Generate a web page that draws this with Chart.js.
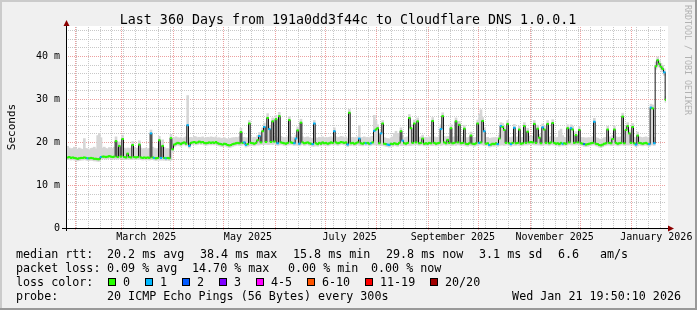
<!DOCTYPE html>
<html>
<head>
<meta charset="utf-8">
<title>Last 360 Days from 191a0dd3f44c to Cloudflare DNS 1.0.0.1</title>
<script src="https://cdn.jsdelivr.net/npm/chart.js@4.4.1/dist/chart.umd.min.js"></script>
<style>
  html, body { margin: 0; padding: 0; background: #f0f0f0; }
  #wrap { width: 697px; height: 310px; }
</style>
</head>
<body>
<div id="wrap"><canvas id="pingChart" width="697" height="310"></canvas></div>
<script>
// Smokeping style graph: one value per day, day 1 .. 360 (last value is "now")
const medianMs = [
    16.4,16.5,16.3,16.4,16.3,16.2,16.1,16.2,16.3,16.3,
    16.4,16.3,16.2,16.2,16.3,16.2,16.1,16.1,16.0,16.0,
    16.5,16.6,16.6,16.5,16.6,16.7,16.6,16.5,16.6,20.2,
    16.5,19.1,16.6,20.7,16.5,16.4,17.3,16.5,16.4,19.3,
    16.5,16.4,16.5,19.4,16.4,16.3,16.4,16.3,16.4,16.3,
    22.0,16.4,16.3,16.2,16.3,20.4,16.3,19.1,16.3,16.2,
    16.3,16.2,20.9,18.3,19.4,19.6,19.8,19.7,19.5,19.8,
    19.9,19.6,23.9,19.1,19.8,19.9,20.0,19.8,19.9,20.1,
    19.9,20.0,19.8,19.7,19.8,19.9,19.8,19.9,19.8,20.0,
    19.7,19.6,19.5,19.4,19.6,19.5,19.3,19.2,19.3,19.5,
    19.6,19.7,19.8,19.7,22.3,19.8,19.9,19.3,19.5,24.3,
    19.8,19.7,19.6,19.8,20.4,21.4,19.9,22.5,23.5,20.0,
    25.6,23.0,20.0,24.8,20.1,25.3,19.7,26.0,19.9,19.8,
    19.7,19.6,19.8,25.1,19.9,19.8,19.7,20.8,22.7,19.6,
    24.5,19.9,19.7,19.8,19.9,19.7,19.6,19.5,24.3,19.7,
    19.5,19.8,19.6,19.9,19.7,19.8,19.6,19.7,19.9,19.8,
    22.5,19.9,19.7,19.8,20.0,19.9,19.8,19.9,19.4,26.8,
    19.7,19.8,19.6,19.7,19.9,20.8,19.7,19.6,19.8,19.7,
    19.8,19.6,19.7,19.9,22.6,22.9,23.2,19.7,22.0,24.3,
    19.6,19.5,19.4,19.3,19.6,19.5,19.7,19.6,19.5,19.8,
    22.5,20.3,19.7,19.6,19.8,25.6,23.2,19.8,24.3,19.9,
    24.8,19.7,19.8,20.8,19.6,19.7,19.6,19.8,19.7,24.9,
    19.8,19.6,19.7,19.8,23.0,26.0,19.9,19.7,20.5,19.8,
    23.2,19.7,19.8,24.8,19.9,24.0,19.7,19.8,23.1,19.6,
    19.5,19.7,21.5,19.6,19.5,19.7,24.3,19.8,19.9,24.9,
    22.5,19.6,19.7,19.3,19.4,19.6,19.5,19.7,19.5,20.8,
    23.7,23.5,22.8,19.8,24.2,19.7,19.5,19.8,23.3,19.7,
    19.8,22.9,19.6,19.7,23.7,19.8,22.4,19.9,20.0,19.9,
    24.2,19.8,23.1,21.0,19.7,23.4,22.9,19.8,24.2,19.7,
    19.9,24.4,19.8,19.6,19.7,19.5,19.8,19.6,19.7,19.6,
    23.2,19.9,23.2,22.9,19.8,21.6,19.9,22.8,19.7,19.6,
    19.5,19.4,19.5,19.6,19.7,19.8,24.7,19.6,19.5,19.3,
    19.2,19.4,19.6,19.7,22.9,19.8,19.7,20.7,22.9,19.8,
    19.6,19.7,19.8,25.9,19.7,22.8,23.7,22.0,19.8,23.5,
    19.7,19.4,21.5,19.8,19.7,19.6,19.7,19.8,19.6,19.5,
    28.0,27.8,19.7,37.6,39.0,38.2,37.5,37.0,36.2,29.8
];

// top and bottom of the grey "smoke" (spread of the 20 pings)
const smokeHi = [
    19.0,18.6,18.4,18.5,18.8,18.5,18.3,18.6,18.4,18.3,
    20.8,18.5,18.4,18.2,18.5,18.6,18.8,18.4,21.5,22.0,
    21.0,18.6,18.8,18.5,18.4,18.7,18.6,18.5,18.8,21.2,
    18.6,20.0,18.5,21.6,18.6,18.4,18.6,18.5,18.6,20.1,
    18.7,18.5,18.6,20.3,18.6,18.4,18.5,18.6,18.4,18.5,
    22.8,18.8,18.6,18.4,18.5,21.3,18.6,20.5,18.7,18.4,
    18.5,18.3,21.8,20.5,21.0,21.2,21.0,20.9,21.1,20.8,
    21.0,21.2,30.8,21.0,21.1,21.0,21.3,21.2,21.0,21.1,
    21.0,21.2,20.9,21.0,21.1,21.0,21.2,21.1,21.0,21.2,
    20.9,21.0,20.8,20.9,21.0,20.8,20.7,20.8,20.9,21.0,
    21.0,21.1,21.0,21.2,23.2,21.0,21.1,20.9,21.0,25.0,
    21.2,21.0,21.1,21.0,21.5,22.2,21.2,23.3,24.4,21.3,
    26.6,23.8,21.2,25.6,21.4,26.2,21.0,26.9,21.3,21.1,
    21.0,21.1,21.2,25.9,21.2,21.0,21.1,21.6,23.5,21.0,
    25.3,21.2,21.0,21.1,21.2,21.0,20.9,20.9,25.0,21.0,
    20.9,21.1,21.0,21.2,21.0,21.1,21.0,21.1,21.2,21.0,
    23.3,21.2,21.0,21.1,21.3,21.2,21.0,21.2,20.8,27.6,
    21.0,21.1,21.0,21.1,21.2,23.8,21.0,21.1,21.2,21.0,
    21.1,21.0,21.2,21.3,26.2,25.0,24.0,21.2,22.8,25.0,
    21.0,20.9,20.8,20.7,21.0,21.2,22.0,22.5,22.0,21.2,
    23.3,21.5,21.0,21.1,21.2,26.4,24.0,21.2,25.1,21.3,
    25.6,21.1,21.2,21.6,21.0,21.1,21.0,21.2,21.1,25.7,
    21.2,21.0,21.1,21.2,24.0,26.8,21.3,21.1,21.3,21.2,
    24.0,21.1,21.2,25.6,21.3,24.8,21.1,21.2,23.9,21.0,
    21.0,21.1,22.3,21.0,21.0,21.1,25.1,26.5,27.5,25.7,
    23.3,21.0,21.1,20.8,20.9,21.0,21.0,21.1,21.0,21.6,
    24.5,24.3,23.6,21.2,25.0,21.1,21.0,21.2,24.1,21.1,
    21.2,23.7,21.0,21.1,24.5,21.2,23.2,21.3,21.4,21.3,
    25.0,21.2,23.9,21.8,21.1,24.2,23.7,21.2,25.0,21.1,
    21.3,25.2,21.2,21.0,21.1,22.6,23.0,21.5,21.1,21.0,
    24.0,21.3,24.0,23.7,21.2,22.4,21.3,23.6,21.1,21.0,
    21.0,20.9,21.0,21.0,21.1,21.2,25.5,21.0,20.9,20.7,
    20.6,20.8,21.0,21.1,23.7,21.2,21.1,21.5,23.7,21.2,
    21.0,21.1,21.2,26.7,21.1,23.6,24.5,22.8,21.2,24.3,
    21.1,20.8,22.3,21.2,21.1,21.0,21.1,21.2,21.0,21.0,
    28.8,28.6,21.1,38.6,39.8,39.0,38.3,37.8,37.0,30.6
];

const smokeLo = [
    15.9,16.0,15.8,15.9,15.8,15.7,15.6,15.7,15.8,15.8,
    15.9,15.8,15.7,15.7,15.8,15.7,15.6,15.6,15.5,15.5,
    16.0,16.1,16.1,16.0,16.1,16.2,16.1,16.0,16.1,16.0,
    16.0,16.1,16.1,16.1,16.0,15.9,16.0,16.0,15.9,16.0,
    16.0,15.9,16.0,16.0,15.9,15.8,15.9,15.8,15.9,15.8,
    15.9,15.9,15.8,15.7,15.8,15.8,15.8,15.8,15.8,15.7,
    15.8,15.7,15.8,17.6,18.9,19.1,19.3,19.2,19.0,19.3,
    19.4,19.1,19.2,18.6,19.3,19.4,19.5,19.3,19.4,19.6,
    19.4,19.5,19.3,19.2,19.3,19.4,19.3,19.4,19.3,19.5,
    19.2,19.1,19.0,18.9,19.1,19.0,18.8,18.7,18.8,19.0,
    19.1,19.2,19.3,19.2,19.2,19.3,19.4,18.8,19.0,19.1,
    19.3,19.2,19.1,19.3,19.3,19.3,19.4,19.4,19.4,19.5,
    19.4,19.4,19.5,19.4,19.6,19.4,19.2,19.3,19.4,19.3,
    19.2,19.1,19.3,19.3,19.4,19.3,19.2,19.3,19.2,19.1,
    19.3,19.4,19.2,19.3,19.4,19.2,19.1,19.0,19.0,19.2,
    19.0,19.3,19.1,19.4,19.2,19.3,19.1,19.2,19.4,19.3,
    19.3,19.4,19.2,19.3,19.5,19.4,19.3,19.4,18.9,19.2,
    19.2,19.3,19.1,19.2,19.4,19.2,19.2,19.1,19.3,19.2,
    19.3,19.1,19.2,19.4,19.3,19.3,19.3,19.2,19.2,19.2,
    19.1,19.0,18.9,18.8,19.1,19.0,19.2,19.1,19.0,19.3,
    19.2,19.2,19.2,19.1,19.3,19.2,19.2,19.3,19.3,19.4,
    19.3,19.2,19.3,19.3,19.1,19.2,19.1,19.3,19.2,19.2,
    19.3,19.1,19.2,19.3,19.2,19.3,19.4,19.2,19.3,19.3,
    19.2,19.2,19.3,19.2,19.4,19.3,19.2,19.3,19.2,19.1,
    19.0,19.2,19.2,19.1,19.0,19.2,19.2,19.3,19.4,19.3,
    19.2,19.1,19.2,18.8,18.9,19.1,19.0,19.2,19.0,19.2,
    19.3,19.3,19.2,19.3,19.3,19.2,19.0,19.3,19.2,19.2,
    19.3,19.2,19.1,19.2,19.3,19.3,19.3,19.4,19.5,19.4,
    19.3,19.3,19.3,19.3,19.2,19.2,19.3,19.3,19.3,19.2,
    19.4,19.3,19.3,19.1,19.2,19.0,19.3,19.1,19.2,19.1,
    19.3,19.4,19.3,19.3,19.3,19.3,19.4,19.3,19.2,19.1,
    19.0,18.9,19.0,19.1,19.2,19.3,19.3,19.1,19.0,18.8,
    18.7,18.9,19.1,19.2,19.3,19.3,19.2,19.2,19.3,19.3,
    19.1,19.2,19.3,19.3,19.2,19.3,19.3,19.3,19.3,19.3,
    19.2,18.9,19.1,19.3,19.2,19.1,19.2,19.3,19.1,19.0,
    19.3,19.3,19.2,36.9,38.0,37.4,36.8,36.3,35.5,29.2
];

// days (0-based index into the arrays above) that lost pings
const lossOneIdx = [12, 20, 50, 52, 56, 59, 72, 73, 106, 107, 115, 118, 121, 126, 136, 137,
    139, 147, 148, 160, 168, 175, 179, 182, 184, 188, 192, 193, 201, 224, 247, 250, 253, 258,
    260, 266, 268, 285, 297, 302, 316, 341, 349, 350, 352, 358];
const lossTwoIdx = [310];

const lossLabels = ['0', '1', '2', '3', '4-5', '6-10', '11-19', '20/20'];
const lossColors = ['#26ff00', '#00b8ff', '#0059ff', '#7e00ff', '#ff00ff', '#ff5500', '#ff0000', '#a10000'];

const yTickValues = [0, 10, 20, 30, 40];
const xTickLabels = ['March 2025', 'May 2025', 'July 2025', 'September 2025', 'November 2025', 'January 2026'];
const xTickDates = [[2025, 2, 16], [2025, 4, 16], [2025, 6, 16], [2025, 8, 16], [2025, 10, 16], [2026, 0, 16]];

const titleText = 'Last 360 Days from 191a0dd3f44c to Cloudflare DNS 1.0.0.1';
const statLines = [
    [[16, 'median rtt:'], [107, '20.2 ms avg'], [200, '38.4 ms max'], [293, '15.8 ms min'],
     [386, '29.8 ms now'], [479, '3.1 ms sd'], [558, '6.6'], [600, 'am/s']],
    [[16, 'packet loss:'], [107, '0.09 % avg'], [192, '14.70 % max'], [288, '0.00 % min'],
     [371, '0.00 % now']],
    [[16, 'loss color:']],
    [[16, 'probe:'], [107, '20 ICMP Echo Pings (56 Bytes) every 300s']]
];
const stampText = 'Wed Jan 21 19:50:10 2026';

const DAY_MS = 86400000;
const endTime = Date.UTC(2026, 0, 21, 19, 50, 10);
const startTime = endTime - 360 * DAY_MS;
const yMax = 46.74;
const MONO = '"DejaVu Sans Mono", monospace';

function dayOf(t) {
    return (t - startTime) / DAY_MS;
}

function monthStarts() {
    const out = [];
    for (let m = 1; m <= 12; m++) out.push(dayOf(Date.UTC(2025, m, 1)));
    return out;
}

function sundays() {
    const out = [];
    for (let t = Date.UTC(2025, 1, 2); t < endTime; t += 7 * DAY_MS) out.push(dayOf(t));
    return out;
}

const lossClass = medianMs.map(() => 0);
lossOneIdx.forEach(i => { lossClass[i] = 1; });
lossTwoIdx.forEach(i => { lossClass[i] = 2; });

const medianPoints = medianMs.map((v, i) => ({ x: i + 1, y: v }));
const smokeBars = smokeHi.map((v, i) => ({ x: i + 1, y: [smokeLo[i], v] }));

// rrdtool look: frame, canvas, dotted grid, arrows and the text block below
const rrdLook = {
    id: 'rrdLook',
    beforeDraw(chart) {
        const ctx = chart.ctx, a = chart.chartArea, w = chart.width, h = chart.height;
        ctx.save();
        ctx.fillStyle = '#f0f0f0';
        ctx.fillRect(0, 0, w, h);
        ctx.fillStyle = '#cbcbcb';
        ctx.fillRect(0, 0, w, 2);
        ctx.fillRect(0, 0, 2, h);
        ctx.fillStyle = '#999999';
        ctx.fillRect(0, h - 2, w, 2);
        ctx.fillRect(w - 2, 0, 2, h);
        ctx.fillStyle = '#ffffff';
        ctx.fillRect(a.left, a.top - 1, a.right - a.left + 2, a.bottom - a.top + 1);
        ctx.restore();
    },
    beforeDatasetsDraw(chart) {
        const ctx = chart.ctx, a = chart.chartArea;
        const xs = chart.scales.x, ys = chart.scales.y;
        ctx.save();
        ctx.lineWidth = 1;
        ctx.setLineDash([1, 1]);

        const hline = (v, color) => {
            const py = Math.round(ys.getPixelForValue(v)) + 0.5;
            ctx.strokeStyle = color;
            ctx.beginPath();
            ctx.moveTo(a.left, py);
            ctx.lineTo(a.right, py);
            ctx.stroke();
        };
        const vline = (d, color, extra) => {
            const px = Math.round(xs.getPixelForValue(d)) + 0.5;
            ctx.strokeStyle = color;
            ctx.beginPath();
            ctx.moveTo(px, a.top);
            ctx.lineTo(px, a.bottom + extra);
            ctx.stroke();
        };

        for (let v = 2; v < yMax; v += 2) {
            if (v % 10 !== 0) hline(v, '#c8c8c8');
        }
        sundays().forEach(d => vline(d, '#c8c8c8', 0));
        for (let v = 10; v < yMax; v += 10) hline(v, '#eda0a0');
        monthStarts().forEach(d => vline(d, '#eda0a0', 3));
        ctx.restore();
    },
    afterDatasetsDraw(chart) {
        const ctx = chart.ctx, a = chart.chartArea;
        const yb = a.bottom + 0.5, xl = a.left + 0.5;
        ctx.save();
        ctx.setLineDash([]);
        ctx.lineWidth = 1;
        ctx.strokeStyle = '#000000';
        ctx.beginPath();
        ctx.moveTo(a.left - 4, yb);
        ctx.lineTo(a.right + 4, yb);
        ctx.moveTo(xl, a.bottom + 3);
        ctx.lineTo(xl, a.top - 3);
        ctx.stroke();

        ctx.fillStyle = '#8b0000';
        ctx.beginPath();
        ctx.moveTo(xl - 3, a.top - 1);
        ctx.lineTo(xl + 3, a.top - 1);
        ctx.lineTo(xl, a.top - 7);
        ctx.closePath();
        ctx.fill();
        ctx.beginPath();
        ctx.moveTo(a.right + 2, yb - 3);
        ctx.lineTo(a.right + 2, yb + 3);
        ctx.lineTo(a.right + 8, yb);
        ctx.closePath();
        ctx.fill();
        ctx.restore();
    },
    afterDraw(chart) {
        const ctx = chart.ctx;
        ctx.save();
        ctx.fillStyle = '#000000';
        ctx.textBaseline = 'alphabetic';

        ctx.font = '13.3px ' + MONO;
        ctx.textAlign = 'center';
        ctx.fillText(titleText, 348, 24);

        // unit label on the left
        ctx.save();
        ctx.font = '11px ' + MONO;
        ctx.translate(14.5, 127);
        ctx.rotate(-Math.PI / 2);
        ctx.fillText('Seconds', 0, 0);
        ctx.restore();

        // watermark on the right edge
        ctx.save();
        ctx.font = '8.3px ' + MONO;
        ctx.fillStyle = '#b2b2b2';
        ctx.textAlign = 'left';
        ctx.translate(685, 5);
        ctx.rotate(Math.PI / 2);
        ctx.fillText('RRDTOOL / TOBI OETIKER', 0, 0);
        ctx.restore();

        ctx.font = '11.7px ' + MONO;
        ctx.textAlign = 'left';
        const baselines = [258, 272, 286, 300];
        statLines.forEach((line, row) => {
            line.forEach(([x, txt]) => ctx.fillText(txt, x, baselines[row]));
        });

        const boxX = [108, 145, 182, 219, 256, 307, 365, 430];
        lossLabels.forEach((lbl, i) => {
            ctx.fillStyle = lossColors[i];
            ctx.fillRect(boxX[i], 278, 8, 8);
            ctx.strokeStyle = '#000000';
            ctx.lineWidth = 1;
            ctx.strokeRect(boxX[i] + 0.5, 278.5, 7, 7);
            ctx.fillStyle = '#000000';
            ctx.fillText(lbl, boxX[i] + 15, 286);
        });

        ctx.textAlign = 'right';
        ctx.fillText(stampText, 681, 300);
        ctx.restore();
    }
};

const ctx = document.getElementById('pingChart');
const pingChart = new Chart(ctx, {
    type: 'line',
    data: {
        datasets: [
            {
                label: 'median rtt',
                data: medianPoints,
                stepped: 'middle',
                borderColor: '#151515',
                borderWidth: 1,
                fill: false,
                pointStyle: 'line',
                pointRadius: 1.2,
                pointBorderWidth: 2,
                pointBorderColor: lossClass.map(c => lossColors[c]),
                pointBackgroundColor: lossClass.map(c => lossColors[c]),
                order: 1
            },
            {
                type: 'bar',
                label: 'smoke',
                data: smokeBars,
                backgroundColor: '#d6d6d6',
                borderWidth: 0,
                barThickness: 2,
                grouped: false,
                order: 2
            }
        ]
    },
    options: {
        responsive: false,
        animation: false,
        devicePixelRatio: 1,
        events: [],
        layout: { padding: { left: 0, right: 31, top: 27, bottom: 60 } },
        plugins: {
            legend: { display: false },
            tooltip: { enabled: false },
            title: { display: false }
        },
        scales: {
            x: {
                type: 'linear',
                min: 0,
                max: 360,
                offset: false,
                grid: { display: false, drawTicks: false },
                border: { display: false },
                afterBuildTicks: scale => {
                    scale.ticks = xTickDates.map(d => ({ value: dayOf(Date.UTC(d[0], d[1], d[2])) }));
                },
                afterFit: scale => { scale.height = 22; },
                ticks: {
                    autoSkip: false,
                    maxRotation: 0,
                    padding: 3,
                    color: '#000000',
                    font: { family: MONO, size: 10 },
                    callback: (value, index) => xTickLabels[index]
                }
            },
            y: {
                type: 'linear',
                min: 0,
                max: yMax,
                grid: { display: false, drawTicks: false },
                border: { display: false },
                afterBuildTicks: scale => {
                    scale.ticks = yTickValues.map(v => ({ value: v }));
                },
                afterFit: scale => { scale.width = 66; },
                ticks: {
                    padding: 6,
                    color: '#000000',
                    font: { family: MONO, size: 10 },
                    callback: value => (value === 0 ? '0' : value + ' m')
                }
            }
        }
    },
    plugins: [rrdLook]
});
</script>
</body>
</html>
